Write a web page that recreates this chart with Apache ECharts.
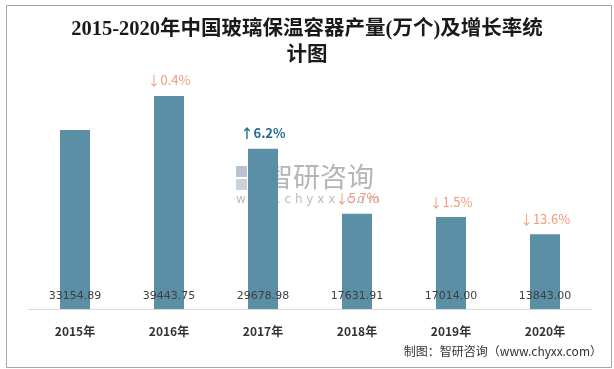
<!DOCTYPE html>
<html>
<head>
<meta charset="utf-8">
<script src="https://cdn.jsdelivr.net/npm/echarts@6/dist/echarts.min.js"></script>
<style>
html,body{margin:0;padding:0;background:#fff;}
#c{width:614px;height:369px;}
</style>
</head>
<body>
<div id="c"></div>
<script>
var categories = ['2015年','2016年','2017年','2018年','2019年','2020年'];
var production = [33154.89, 39443.75, 29678.98, 17631.91, 17014.00, 13843.00];
var growthLabels = ['', '↓0.4%', '↑6.2%', '↓5.7%', '↓1.5%', '↓13.6%'];
var growthUp = [false, false, true, false, false, false];

var chart = echarts.init(document.getElementById('c'));
var topData = production.map(function(v, i){
  return {
    value: v,
    label: {
      show: growthLabels[i] !== '',
      formatter: growthLabels[i],
      color: growthUp[i] ? '#1f6a8a' : '#f29b7c',
      fontWeight: growthUp[i] ? 'bold' : 'normal'
    }
  };
});

chart.setOption({
  animation: false,
  backgroundColor: '#fff',
  title: {
    text: '2015-2020年中国玻璃保温容器产量(万个)及增长率统\n计图',
    left: 'center',
    top: 12,
    textStyle: {
      fontFamily: '"Liberation Serif", "Noto Sans CJK SC", serif',
      fontSize: 20.5,
      fontWeight: 'bold',
      color: '#1a1a1a',
      lineHeight: 26
    }
  },
  graphic: [
    {type: 'rect', left: 4, top: 3, shape: {width: 605, height: 362}, style: {fill: 'none', stroke: '#a6a6a6', lineWidth: 1}, z: 0},
    {type: 'group', left: 236, top: 163, z: -1, children: [
      {type: 'rect', shape: {x: 0, y: 2, width: 11, height: 11}, style: {fill: '#b8c3cf'}},
      {type: 'rect', shape: {x: 13, y: 2, width: 11, height: 11}, style: {fill: '#7f9ab3'}},
      {type: 'rect', shape: {x: 0, y: 15, width: 11, height: 11}, style: {fill: '#c9d1da'}},
      {type: 'rect', shape: {x: 13, y: 15, width: 11, height: 11}, style: {fill: '#b8c3cf'}},
      {type: 'text', x: 30, y: -1, style: {text: '智研咨询', fill: '#b5b5b5', font: '27px "Noto Sans CJK SC"'}},
      {type: 'text', x: 0, y: 30, style: {text: 'w w w . c h y x x . c o m', fill: '#bbbbbb', font: '12px "DejaVu Sans"'}}
    ]},
    {type: 'text', right: 12, top: 345, style: {text: '制图：智研咨询（www.chyxx.com）', fill: '#333', font: '12px "Noto Sans CJK SC"'}}
  ],
  grid: {left: 28, right: 22, top: 93, bottom: 60},
  xAxis: {
    type: 'category',
    data: categories,
    axisLine: {lineStyle: {color: '#d9d9d9'}},
    axisTick: {show: false},
    axisLabel: {color: '#333', fontSize: 12, fontWeight: 'bold', margin: 16, fontFamily: '"Noto Sans CJK SC"'}
  },
  yAxis: {
    type: 'value', min: 0, max: 40000, show: false,
    splitLine: {show: false}
  },
  series: [
    {
      type: 'bar',
      data: production,
      barWidth: 30,
      itemStyle: {color: '#5b8fa6'},
      label: {
        show: true, position: 'insideBottom', distance: 7,
        color: '#404040', fontSize: 11, fontFamily: '"DejaVu Sans"',
        formatter: function(p){ return p.value.toFixed(2); }
      },
      z: 2
    },
    {
      type: 'bar',
      data: topData,
      barWidth: 30,
      barGap: '-100%',
      itemStyle: {color: 'rgba(0,0,0,0)'},
      label: {show: true, position: 'top', distance: 9, fontSize: 13, fontFamily: '"Noto Sans CJK SC"'},
      z: 3
    }
  ]
});
</script>
</body>
</html>
